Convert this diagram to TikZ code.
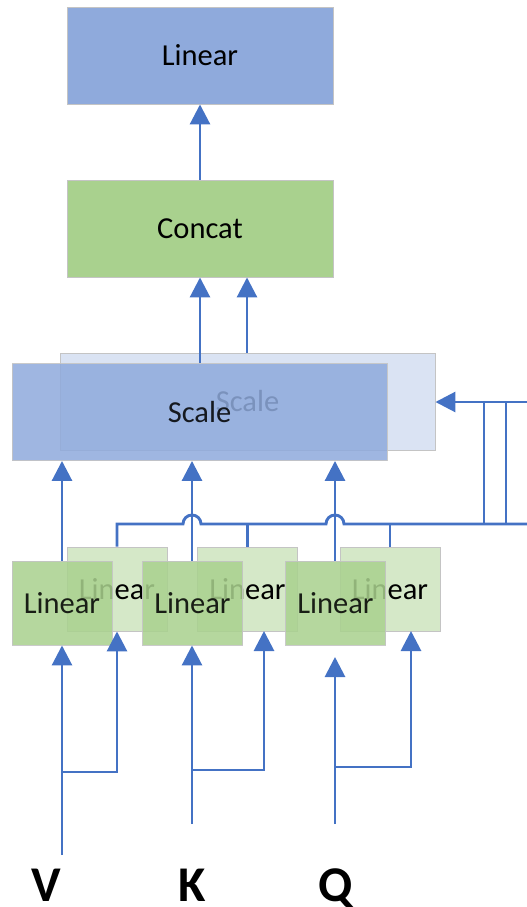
\documentclass[tikz,border=0pt]{standalone}
\usepackage{fontspec}
\setmainfont{Carlito}
\usetikzlibrary{arrows.meta}
\definecolor{blu}{HTML}{8FAADC}
\definecolor{bluback}{HTML}{DAE3F3}
\definecolor{grn}{HTML}{A9D18E}
\definecolor{grnback}{HTML}{D5E8C8}
\definecolor{lnc}{HTML}{4472C4}
\definecolor{boxline}{HTML}{C4C4C4}
\begin{document}
\begin{tikzpicture}[x=1pt,y=-1pt,
  box/.style={draw=boxline, line width=0.9pt, inner sep=0pt, text=black,
    font=\fontsize{30.5}{36}\selectfont},
  bigbox/.style={box, minimum width=266pt, minimum height=97pt},
  scalebox/.style={box, minimum width=375pt, minimum height=97pt},
  linbox/.style={box, minimum width=100pt, minimum height=84pt},
  front/.style={fill opacity=0.86, draw opacity=0.9},
  ln/.style={draw=lnc, line width=2.9pt},
  arr/.style={ln, -{Triangle[width=20pt,length=20pt]}},
  lbl/.style={inner sep=0pt, anchor=base, font=\fontsize{50}{60}\selectfont\bfseries}]
\useasboundingbox (0,0) rectangle (527,907);

% output stack
\node[bigbox, fill=blu] (lintop) at (200,55.5) {Linear};
\node[bigbox, fill=grn] (concat) at (200,228.5) {Concat};

% attention heads: the rear copy first, the front copy over it
\node[scalebox, fill=bluback] (bscale) at (247.5,401.5) {Scale};
\node[scalebox, fill=blu, front] (fscale) at (199.5,412) {Scale};

\node[linbox, fill=grnback] (bl1) at (117,589) {Linear};
\node[linbox, fill=grnback] (bl2) at (247.5,589) {Linear};
\node[linbox, fill=grnback] (bl3) at (390,589) {Linear};
\node[linbox, fill=grn, front] (fl1) at (62,603) {Linear};
\node[linbox, fill=grn, front] (fl2) at (192.5,603) {Linear};
\node[linbox, fill=grn, front] (fl3) at (335.5,603) {Linear};

% inputs
\node[lbl] (vlab) at (46,901) {V};
\node[lbl] (klab) at (192,901) {K};
\node[lbl] (qlab) at (336,901) {Q};

\coordinate (vin) at (62,855);
\coordinate (kin) at (192,824);
\coordinate (qin) at (335,824);
\coordinate (vsplit) at (62,772);
\coordinate (ksplit) at (192,770);
\coordinate (qsplit) at (335,767);
\coordinate (qtip) at (335,657);

\draw[arr] (vin) -- (fl1.south -| vin);
\draw[arr] (vsplit) -| (bl1.south);
\draw[arr] (kin) -- (fl2.south -| kin);
\draw[arr] (ksplit) -| (264,631);
\draw[arr] (qin) -- (qtip);
\draw[arr] (qsplit) -| (411,631);

% front heads into Scale
\draw[arr] (fl1.north -| 62,0) -- (fscale.south -| 62,0);
\draw[arr] (fl2.north -| 192,0) -- (fscale.south -| 192,0);
\draw[arr] (fl3.north -| 335,0) -- (fscale.south -| 335,0);

% rear heads: bus with hops over the front connectors
\coordinate (rin) at (527,402);
\coordinate (rbus) at (527,524);
\draw[ln] (bl1.north) -- (117,524) -- (183,524)
  arc[start angle=180, end angle=360, radius=9] -- (326,524)
  arc[start angle=180, end angle=360, radius=9] -- (rbus);
\draw[ln] (bl2.north) -- (bl2.north |- rbus);
\draw[ln] (bl3.north) -- (bl3.north |- rbus);
\draw[ln] (484,524) -- (484,402);
\draw[ln] (506,524) -- (506,402);
\draw[arr] (rin) -- (bscale.east |- rin);

% Scale to Concat to Linear
\draw[arr] (fscale.north -| 200,0) -- (concat.south -| 200,0);
\draw[arr] (bscale.north -| 247,0) -- (concat.south -| 247,0);
\draw[arr] (concat.north) -- (lintop.south);
\end{tikzpicture}
\end{document}
